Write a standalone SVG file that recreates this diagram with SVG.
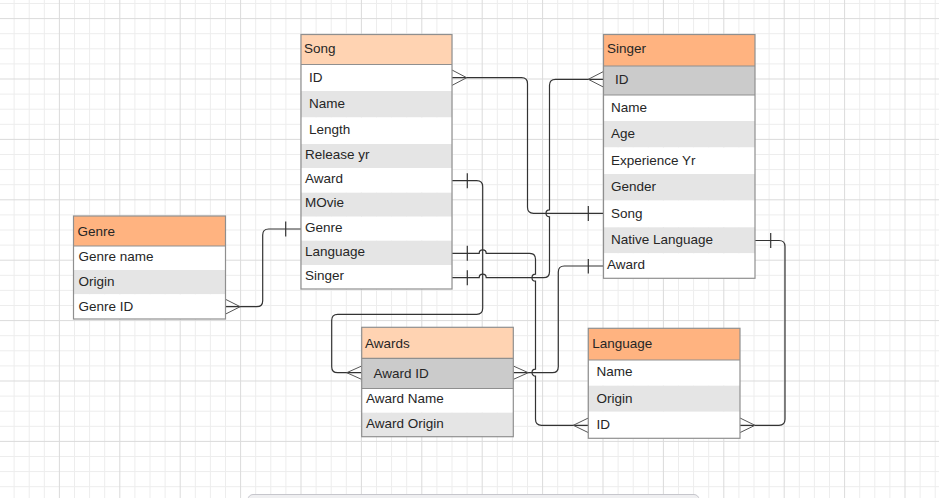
<svg xmlns="http://www.w3.org/2000/svg" width="939" height="498" viewBox="0 0 939 498">
<style>
.bg{fill:#ffffff}
.gmin{stroke:#ededed;stroke-width:1;fill:none}
.gmaj{stroke:#dbdbdb;stroke-width:1;fill:none}
.hA{fill:#FFD3B2}
.hB{fill:#FFB380}
.w{fill:#ffffff}
.g{fill:#e5e5e5}
.k{fill:#cbcbcb}
.fr{fill:none;stroke:#8f8f8f;stroke-width:1.2}
.sep{stroke:#8f8f8f;stroke-width:1.2}
text{font-family:"Liberation Sans",Arial,sans-serif;font-size:13.5px;fill:#262626}
.cn{fill:none;stroke:#333333;stroke-width:1.2}
.cf{fill:none;stroke:#555555;stroke-width:1}
</style>
<rect class="bg" x="0" y="0" width="939" height="498"/>
<g id="grid">
<path class="gmin" d="M14.1 0V498M29.2 0V498M44.3 0V498M74.5 0V498M89.6 0V498M104.7 0V498M134.9 0V498M150 0V498M165.1 0V498M195.3 0V498M210.4 0V498M225.5 0V498M255.7 0V498M270.8 0V498M285.9 0V498M316.1 0V498M331.2 0V498M346.3 0V498M376.5 0V498M391.6 0V498M406.7 0V498M436.9 0V498M452 0V498M467.1 0V498M497.3 0V498M512.4 0V498M527.5 0V498M557.7 0V498M572.8 0V498M587.9 0V498M618.1 0V498M633.2 0V498M648.3 0V498M678.5 0V498M693.6 0V498M708.7 0V498M738.9 0V498M754 0V498M769.1 0V498M799.3 0V498M814.4 0V498M829.5 0V498M859.7 0V498M874.8 0V498M889.9 0V498M920.1 0V498M935.2 0V498
M0 3.5H939M0 33.7H939M0 48.8H939M0 63.9H939M0 94.1H939M0 109.2H939M0 124.3H939M0 154.5H939M0 169.6H939M0 184.7H939M0 214.9H939M0 230H939M0 245.1H939M0 275.3H939M0 290.4H939M0 305.5H939M0 335.7H939M0 350.8H939M0 365.9H939M0 396.1H939M0 411.2H939M0 426.3H939M0 456.5H939M0 471.6H939M0 486.7H939"/>
<path class="gmaj" d="M59.4 0V498M119.8 0V498M180.2 0V498M240.6 0V498M301 0V498M361.4 0V498M421.8 0V498M482.2 0V498M542.6 0V498M603 0V498M663.4 0V498M723.8 0V498M784.2 0V498M844.6 0V498M905 0V498
M0 18.6H939M0 79H939M0 139.4H939M0 199.8H939M0 260.2H939M0 320.6H939M0 381H939M0 441.4H939"/>
<rect x="248" y="494.5" width="451" height="12" rx="5" fill="#efeff1" stroke="#c6c6cc" stroke-width="1"/>
</g>

<g id="connectors">
<!-- Song ID -> Singer Song -->
<path class="cn" d="M452 77.7H521.5Q527.5 77.7 527.5 83.7V207.3Q527.5 213.3 533.5 213.3H603.5"/>
<path class="cf" d="M452 70L466.7 77.7L452 85.4"/>
<path class="cn" d="M588.3 206V221"/>
<!-- Singer ID -> Song Singer -->
<path class="cn" d="M603.5 79.3H555.5Q549.5 79.3 549.5 85.3V209.8A3.5 3.5 0 0 0 549.5 216.8V271.7Q549.5 277.7 543.5 277.7H486.2A3.5 3.5 0 0 0 479.2 277.7H452"/>
<path class="cf" d="M603.5 71.5L588.3 79.3L603.5 87.1"/>
<path class="cn" d="M467.3 270.2V285.2"/>
<!-- Song Award -> Awards Award ID -->
<path class="cn" d="M452 180.7H476.7Q482.7 180.7 482.7 186.7V308.3Q482.7 314.3 476.7 314.3H337.7Q331.7 314.3 331.7 320.3V366.7Q331.7 372.7 337.7 372.7H361.7"/>
<path class="cn" d="M467.3 173.2V188.2"/>
<path class="cf" d="M361.7 366L346.7 372.7L361.7 379.4"/>
<!-- Song Language -> Language ID -->
<path class="cn" d="M452 253.3H479.2A3.5 3.5 0 0 1 486.2 253.3H529.5Q535.5 253.3 535.5 259.3V274.2A3.5 3.5 0 0 0 535.5 281.2V369.2A3.5 3.5 0 0 0 535.5 376.2V419.3Q535.5 425.3 541.5 425.3H588.3"/>
<path class="cn" d="M467.3 245.8V260.8"/>
<path class="cf" d="M588.3 418L573.3 425.3L588.3 432.6"/>
<!-- Singer Award -> Awards Award ID -->
<path class="cn" d="M603.5 266H564.3Q558.3 266 558.3 272V366.7Q558.3 372.7 552.3 372.7H513.3"/>
<path class="cn" d="M588.3 259V273.5"/>
<path class="cf" d="M513.3 366L528.3 372.7L513.3 379.4"/>
<!-- Singer Native Language -> Language ID -->
<path class="cn" d="M755 240.5H779Q785 240.5 785 246.5V419.3Q785 425.3 779 425.3H740"/>
<path class="cn" d="M770.7 233V248"/>
<path class="cf" d="M740 418L755 425.3L740 432.6"/>
<!-- Song Genre -> Genre ID -->
<path class="cn" d="M301 229H268.7Q262.7 229 262.7 235V300.7Q262.7 306.7 256.7 306.7H225.5"/>
<path class="cn" d="M285.7 221.5V236.5"/>
<path class="cf" d="M225.5 299.3L240.2 306.7L225.5 314.1"/>
</g>

<g id="song">
<rect class="hA" x="301" y="34.5" width="151" height="30"/>
<rect class="w" x="301" y="64.5" width="151" height="26.5"/>
<rect class="g" x="301" y="91" width="151" height="26.5"/>
<rect class="w" x="301" y="117.5" width="151" height="26.5"/>
<rect class="g" x="301" y="144" width="151" height="24"/>
<rect class="w" x="301" y="168" width="151" height="24.7"/>
<rect class="g" x="301" y="192.7" width="151" height="24"/>
<rect class="w" x="301" y="216.7" width="151" height="24"/>
<rect class="g" x="301" y="240.7" width="151" height="24.3"/>
<rect class="w" x="301" y="265" width="151" height="24"/>
<line class="sep" x1="301" y1="64.5" x2="452" y2="64.5"/>
<rect class="fr" x="301" y="34.5" width="151" height="254.5"/>
<text x="304" y="53">Song</text>
<text x="309" y="82">ID</text>
<text x="309" y="108">Name</text>
<text x="309" y="134">Length</text>
<text x="305" y="159">Release yr</text>
<text x="305" y="183">Award</text>
<text x="305" y="207">MOvie</text>
<text x="305" y="232">Genre</text>
<text x="305" y="256">Language</text>
<text x="305" y="280">Singer</text>
</g>

<g id="singer">
<rect class="hB" x="603.5" y="34.5" width="151.5" height="31.5"/>
<rect class="k" x="603.5" y="66" width="151.5" height="29"/>
<rect class="w" x="603.5" y="95" width="151.5" height="26"/>
<rect class="g" x="603.5" y="121" width="151.5" height="26.5"/>
<rect class="w" x="603.5" y="147.5" width="151.5" height="26.5"/>
<rect class="g" x="603.5" y="174" width="151.5" height="26.5"/>
<rect class="w" x="603.5" y="200.5" width="151.5" height="26.8"/>
<rect class="g" x="603.5" y="227.3" width="151.5" height="26"/>
<rect class="w" x="603.5" y="253.3" width="151.5" height="25"/>
<line class="sep" x1="603.5" y1="66" x2="755" y2="66"/>
<line class="sep" x1="603.5" y1="95" x2="755" y2="95"/>
<rect class="fr" x="603.5" y="34.5" width="151.5" height="243.8"/>
<text x="607" y="53">Singer</text>
<text x="615" y="84">ID</text>
<text x="611" y="112">Name</text>
<text x="611" y="138">Age</text>
<text x="611" y="165">Experience Yr</text>
<text x="611" y="191">Gender</text>
<text x="611" y="218">Song</text>
<text x="611" y="244">Native Language</text>
<text x="607" y="269">Award</text>
</g>

<g id="genre">
<rect class="hB" x="73.5" y="216" width="152" height="30"/>
<rect class="w" x="73.5" y="246" width="152" height="24"/>
<rect class="g" x="73.5" y="270" width="152" height="24.3"/>
<rect class="w" x="73.5" y="294.3" width="152" height="24.7"/>
<line class="sep" x1="73.5" y1="246" x2="225.5" y2="246"/>
<rect class="fr" x="73.5" y="216" width="152" height="103"/>
<text x="77.5" y="235.5">Genre</text>
<text x="78.5" y="261">Genre name</text>
<text x="78.5" y="285.5">Origin</text>
<text x="78.5" y="310.5">Genre ID</text>
</g>

<g id="awards">
<rect class="hA" x="361.7" y="327.3" width="151.6" height="31"/>
<rect class="k" x="361.7" y="358.3" width="151.6" height="30.2"/>
<rect class="w" x="361.7" y="388.5" width="151.6" height="24.2"/>
<rect class="g" x="361.7" y="412.7" width="151.6" height="24"/>
<line class="sep" x1="361.7" y1="358.3" x2="513.3" y2="358.3"/>
<line class="sep" x1="361.7" y1="388.5" x2="513.3" y2="388.5"/>
<rect class="fr" x="361.7" y="327.3" width="151.6" height="109.4"/>
<text x="365" y="347.5">Awards</text>
<text x="373.5" y="377.5">Award ID</text>
<text x="366" y="403">Award Name</text>
<text x="366" y="428">Award Origin</text>
</g>

<g id="language">
<rect class="hB" x="588.3" y="328.3" width="151.7" height="31.7"/>
<rect class="w" x="588.3" y="360" width="151.7" height="25.7"/>
<rect class="g" x="588.3" y="385.7" width="151.7" height="26"/>
<rect class="w" x="588.3" y="411.7" width="151.7" height="26.6"/>
<line class="sep" x1="588.3" y1="360" x2="740" y2="360"/>
<rect class="fr" x="588.3" y="328.3" width="151.7" height="110"/>
<text x="592.3" y="347.5">Language</text>
<text x="596.5" y="375.5">Name</text>
<text x="596.5" y="403">Origin</text>
<text x="596.5" y="429">ID</text>
</g>
</svg>
